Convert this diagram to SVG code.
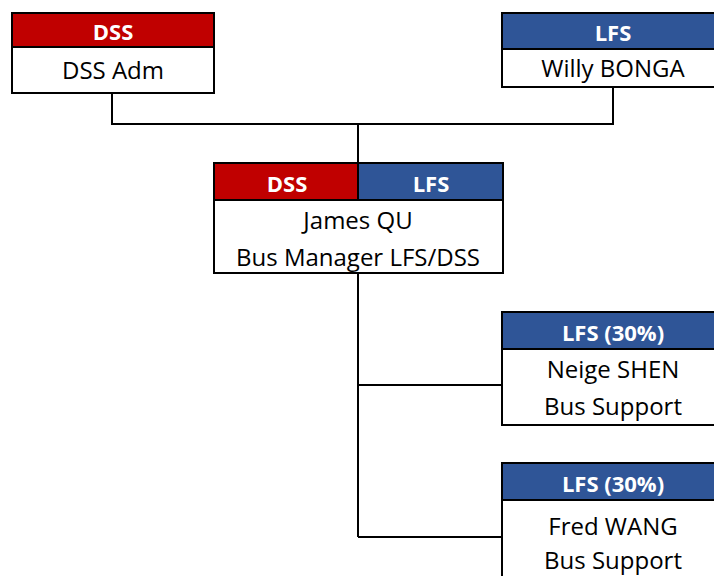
<svg xmlns="http://www.w3.org/2000/svg" width="714" height="576" viewBox="0 0 714 576">
<style>
.box{fill:#fff;stroke:#000;stroke-width:2}
.red{fill:#c00000}
.blue{fill:#2f5597}
.hd{font-family:"Open Sans","Noto Sans",sans-serif;font-size:22px;font-weight:bold;fill:#fff;text-anchor:middle}
.tx{font-family:"Open Sans","Noto Sans",sans-serif;font-size:24px;fill:#000;text-anchor:middle}
.ln{fill:none;stroke:#000;stroke-width:2}
</style>
<rect width="714" height="576" fill="#fff"/>
<g id="connectors">
<path class="ln" d="M112 93V124H613V87M358 124V163M358 273V537M358 385H502M358 537H502"/>
</g>
<g id="dss-adm">
<rect class="box" x="12" y="13" width="202" height="80"/>
<rect class="red" x="13" y="14" width="200" height="33"/>
<line class="ln" x1="12" y1="47" x2="214" y2="47"/>
<text class="hd" x="113" y="40">DSS</text>
<text class="tx" x="113" y="79">DSS Adm</text>
</g>
<g id="willy-bonga">
<rect class="box" x="502" y="13" width="224" height="74"/>
<rect class="blue" x="503" y="14" width="222" height="35"/>
<line class="ln" x1="502" y1="49" x2="726" y2="49"/>
<text class="hd" x="613" y="41">LFS</text>
<text class="tx" x="613" y="77">Willy BONGA</text>
</g>
<g id="james-qu">
<rect class="box" x="214" y="163" width="289" height="110"/>
<rect class="red" x="215" y="164" width="143" height="36"/>
<rect class="blue" x="358" y="164" width="144" height="36"/>
<line class="ln" x1="214" y1="200" x2="503" y2="200"/>
<line class="ln" x1="358" y1="163" x2="358" y2="200"/>
<text class="hd" x="287" y="192">DSS</text>
<text class="hd" x="431" y="192">LFS</text>
<text class="tx" x="358" y="229">James QU</text>
<text class="tx" x="358" y="266">Bus Manager LFS/DSS</text>
</g>
<g id="neige-shen">
<rect class="box" x="502" y="312" width="224" height="113"/>
<rect class="blue" x="503" y="313" width="222" height="36"/>
<line class="ln" x1="502" y1="349" x2="726" y2="349"/>
<text class="hd" x="613" y="341">LFS (30%)</text>
<text class="tx" x="613" y="378">Neige SHEN</text>
<text class="tx" x="613" y="415">Bus Support</text>
</g>
<g id="fred-wang">
<rect class="box" x="502" y="463" width="224" height="130"/>
<rect class="blue" x="503" y="464" width="222" height="36"/>
<line class="ln" x1="502" y1="500" x2="726" y2="500"/>
<text class="hd" x="613" y="492">LFS (30%)</text>
<text class="tx" x="613" y="535">Fred WANG</text>
<text class="tx" x="613" y="569">Bus Support</text>
</g>
</svg>
